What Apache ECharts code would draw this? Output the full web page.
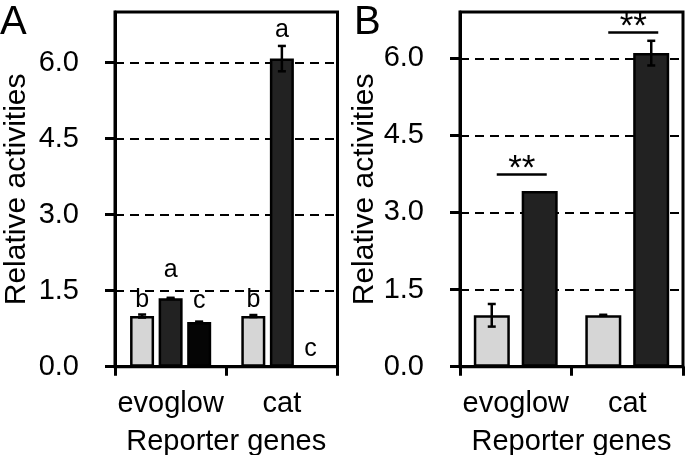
<!DOCTYPE html>
<html><head><meta charset="utf-8">
<script src="https://cdn.jsdelivr.net/npm/echarts@6/dist/echarts.min.js"></script>
<style>html,body{margin:0;padding:0;background:#fff}#c{width:689px;height:455px}</style>
</head><body><div id="c"></div>
<script>
// ---- data ----
const categories = ['evoglow', 'cat'];
const yTicks = [0, 1.5, 3, 4.5, 6];
// Panel A (three series)
const aVals1 = [1.0, 1.0];   const aErr1 = [0.03, 0.02]; const aLet1 = ['b', 'b'];
const aVals2 = [1.35, 6.08]; const aErr2 = [0.01, 0.25]; const aLet2 = ['a', 'a'];
const aVals3 = [0.88, 0];    const aErr3 = [0.01, 0];    const aLet3 = ['c', 'c'];
// Panel B (two series)
const bVals1 = [1.0, 1.0];   const bErr1 = [0.22, 0.01];
const bVals2 = [3.42, 6.1];  const bErr2 = [0, 0.24];
const bSigLevel = [3.74, 6.5];
const bSigText = ['**', '**'];

// ---- styles ----
const FONT = 'Liberation Sans, Arial, sans-serif';
const LIGHT = '#d6d6d6', DARK = '#222222', BLACK = '#050505';

function errSeries(g, vals, errs, letters, idx, n, step, letOff) {
  return {
    type: 'custom', xAxisIndex: g, yAxisIndex: g, z: 5,
    data: vals.map((v, i) => [i, v, errs[i]]),
    renderItem(params, api) {
      const i = api.value(0), v = api.value(1), e = api.value(2);
      const cx = api.coord([i, v])[0] + (idx - (n - 1) / 2) * step;
      const top = api.coord([i, v + e])[1], bot = api.coord([i, v - e])[1];
      const st = { stroke: '#000', lineWidth: 2.5 };
      const ch = [];
      if (e > 0) {
        ch.push({ type: 'line', shape: { x1: cx, y1: top, x2: cx, y2: bot }, style: st });
        ch.push({ type: 'line', shape: { x1: cx - 4, y1: top, x2: cx + 4, y2: top }, style: st });
        ch.push({ type: 'line', shape: { x1: cx - 4, y1: bot, x2: cx + 4, y2: bot }, style: st });
      }
      if (letters) {
        ch.push({ type: 'text', style: { text: letters[i], x: cx, y: top - letOff[i],
          align: 'center', verticalAlign: 'bottom', font: '25px ' + FONT, fill: '#000' } });
      }
      return { type: 'group', children: ch };
    }
  };
}

function barSeries(g, vals, color, width, gap) {
  return { type: 'bar', xAxisIndex: g, yAxisIndex: g, data: vals, barWidth: width, barGap: gap,
    itemStyle: { color: color, borderColor: '#000', borderWidth: 2.5 }, z: 3 };
}

function xAxis(g) {
  return { type: 'category', gridIndex: g, data: categories, boundaryGap: true,
    axisLine: { lineStyle: { color: '#000', width: 3 } },
    axisTick: { show: true, length: 9, interval: 0, lineStyle: { color: '#000', width: 3 } },
    axisLabel: { margin: 23, fontSize: 29, color: '#000', fontFamily: FONT, interval: 0 },
    name: 'Reporter genes', nameLocation: 'middle', nameGap: 61,
    nameTextStyle: { fontSize: 29, color: '#000', fontFamily: FONT } };
}
function yAxis(g, max, nameGap) {
  return { type: 'value', gridIndex: g, min: 0, max: max, interval: 1.5,
    axisLine: { show: true, lineStyle: { color: '#000', width: 3 } },
    axisTick: { show: true, length: 10, customValues: yTicks, lineStyle: { color: '#000', width: 3 } },
    axisLabel: { customValues: yTicks, margin: 36, fontSize: 29, color: '#000', fontFamily: FONT,
      formatter: v => v.toFixed(1) },
    splitLine: { show: true, lineStyle: { color: '#000', width: 2, type: [9, 6] } },
    name: 'Relative activities', nameLocation: 'middle', nameRotate: 90, nameGap: nameGap,
    nameTextStyle: { fontSize: 30, color: '#000', fontFamily: FONT } };
}

const sigSeries = {
  type: 'custom', xAxisIndex: 1, yAxisIndex: 1, z: 6,
  data: bSigLevel.map((v, i) => [i, v]),
  renderItem(params, api) {
    const i = api.value(0), v = api.value(1);
    const p = api.coord([i, v]);
    const cx = p[0] + 6;
    return { type: 'group', children: [
      { type: 'line', shape: { x1: cx - 25, y1: p[1], x2: cx + 25, y2: p[1] }, style: { stroke: '#000', lineWidth: 2.5 } },
      { type: 'text', style: { text: bSigText[i], x: cx, y: p[1] - 5, align: 'center', verticalAlign: 'middle',
        font: '35px ' + FONT, fill: '#000' } }
    ] };
  }
};

const chart = echarts.init(document.getElementById('c'), null, { renderer: 'canvas' });
chart.setOption({
  animation: false,
  backgroundColor: '#fff',
  graphic: [
    { type: 'text', left: 0, top: 3, style: { text: 'A', font: '40px ' + FONT, fill: '#000' } },
    { type: 'text', left: 354, top: 3, style: { text: 'B', font: '40px ' + FONT, fill: '#000' } }
  ],
  grid: [
    { left: 115, top: 12, right: 689 - 337.5, bottom: 88.3, show: true, borderColor: '#000', borderWidth: 3,
      containLabel: false, outerBoundsMode: 'none' },
    { left: 460, top: 12, right: 6, bottom: 88.3, show: true, borderColor: '#000', borderWidth: 3,
      containLabel: false, outerBoundsMode: 'none' }
  ],
  xAxis: [xAxis(0), xAxis(1)],
  yAxis: [yAxis(0, 7, 83), yAxis(1, 6.9, 79)],
  series: [
    barSeries(0, aVals1, LIGHT, 24, '19%'),
    barSeries(0, aVals2, DARK, 24, '19%'),
    barSeries(0, aVals3, BLACK, 24, '19%'),
    errSeries(0, aVals1, aErr1, aLet1, 0, 3, 28.5, [2, 2]),
    errSeries(0, aVals2, aErr2, aLet2, 1, 3, 28.5, [15, 3]),
    errSeries(0, aVals3, aErr3, aLet3, 2, 3, 28.5, [8, 5]),
    barSeries(1, bVals1, LIGHT, 36, '33%'),
    barSeries(1, bVals2, DARK, 36, '33%'),
    errSeries(1, bVals1, bErr1, null, 0, 2, 48, null),
    errSeries(1, bVals2, bErr2, null, 1, 2, 48, null),
    sigSeries
  ]
});
</script>
</body></html>
